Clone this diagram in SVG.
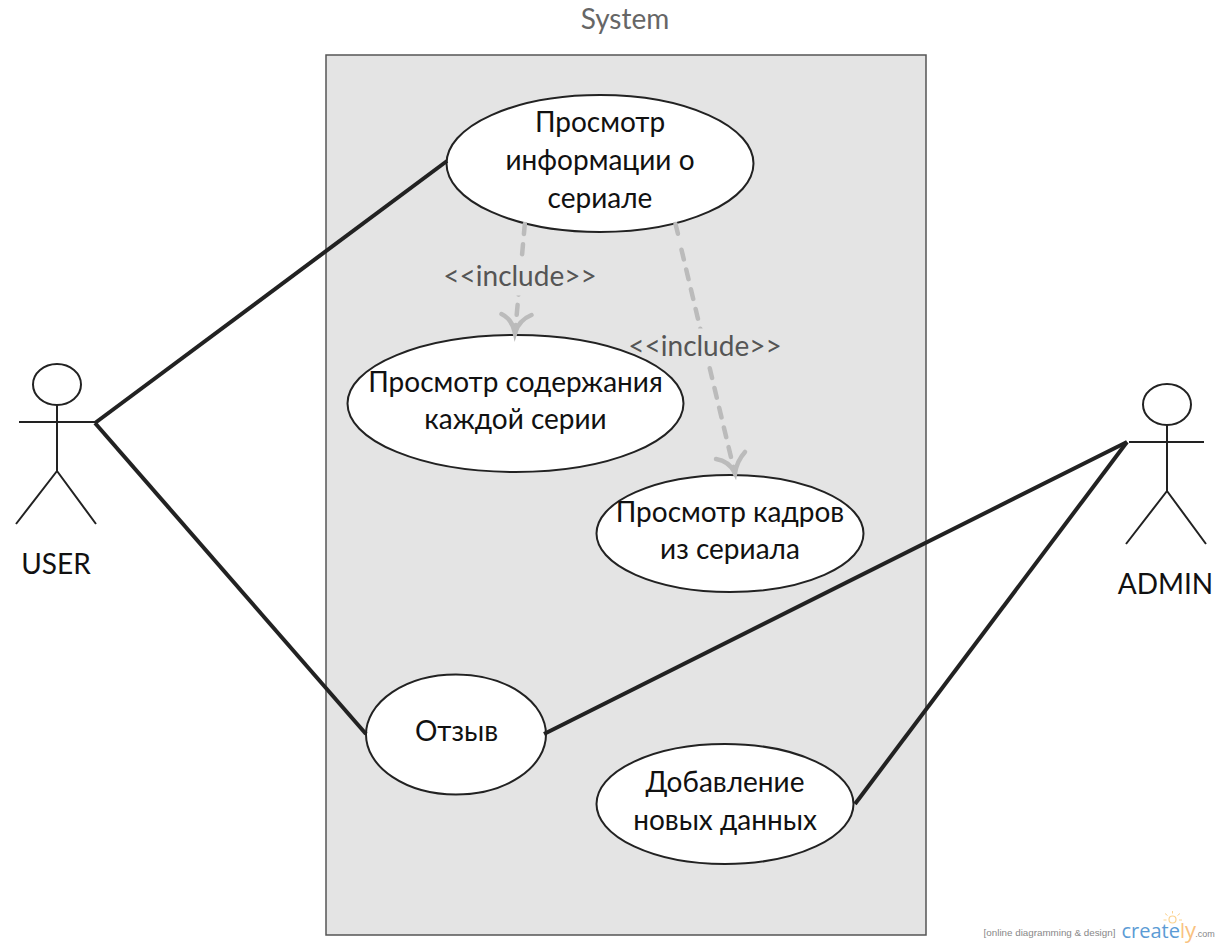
<svg xmlns="http://www.w3.org/2000/svg" width="1220" height="948" viewBox="0 0 1220 948">
<style>
text{font-family:Lato,"Noto Sans",sans-serif;text-anchor:middle}
.t{font-size:28px;fill:#111}
.inc{font-size:28px;fill:#555}
.uc{fill:#fff;stroke:#222;stroke-width:2}
.act{fill:none;stroke:#222;stroke-width:2}
.assoc{fill:none;stroke:#222;stroke-width:4}
.dep{fill:none;stroke:#bbb;stroke-width:4.500;stroke-linecap:round;stroke-dasharray:10 10.3}
.head{fill:none;stroke:#bbb;stroke-width:4.500;stroke-linecap:round}
.bg{fill:#e4e4e4}
.ray{fill:none;stroke:#fbd28f;stroke-width:1}
.wm{font-family:"Liberation Sans",sans-serif;font-size:9.800px;fill:#888}
</style>
<rect width="1220" height="948" fill="#fff"/>
<g id="system">
<rect x="326" y="55" width="600" height="880" fill="#e4e4e4" stroke="#555" stroke-width="1.500"/>
<text x="625" y="28.500" style="font-size:28px;fill:#666">System</text>
</g>
<g id="uc1"><ellipse class="uc" cx="600" cy="163.500" rx="153.500" ry="68.500"/>
<text class="t" x="600" y="132">Просмотр</text><text class="t" x="600" y="170">информации о</text><text class="t" x="600" y="208">сериале</text></g>
<g id="uc2"><ellipse class="uc" cx="515.500" cy="403.500" rx="168" ry="68.500"/>
<text class="t" x="515.500" y="391.500">Просмотр содержания</text><text class="t" x="515.500" y="429">каждой серии</text></g>
<g id="uc3"><ellipse class="uc" cx="730" cy="533.500" rx="133.500" ry="58.500"/>
<text class="t" x="730" y="521.500">Просмотр кадров</text><text class="t" x="730" y="559">из сериала</text></g>
<g id="uc4"><ellipse class="uc" cx="456" cy="734.500" rx="90" ry="60"/>
<text class="t" x="456.500" y="741">Отзыв</text></g>
<g id="uc5"><ellipse class="uc" cx="725" cy="804" rx="128.500" ry="60"/>
<text class="t" x="725" y="792">Добавление</text><text class="t" x="725" y="830">новых данных</text></g>
<g id="user"><ellipse class="act" cx="57" cy="384.500" rx="24" ry="20.500"/>
<path class="act" d="M57 405V471M19 422H95M57 471L16 524M57 471L96 524"/>
<text class="t" x="56" y="573.500">USER</text></g>
<g id="admin"><ellipse class="act" cx="1167" cy="404.500" rx="24" ry="20.500"/>
<path class="act" d="M1167 425V491M1129 442H1204M1167 491L1126 544M1167 491L1206 544"/>
<text class="t" x="1165.500" y="593.500">ADMIN</text></g>
<g id="connectors">
<path class="assoc" d="M95 423L447 161"/>
<path class="assoc" d="M95 423L366 734"/>
<path class="assoc" d="M544 734L1127 442"/>
<path class="assoc" d="M855 804L1127 442"/>
<path class="dep" d="M524.800 224L515 334"/>
<path class="head" d="M501.500 314Q512 319 515 333Q519 320 531.500 315"/>
<path class="dep" d="M675.500 224L679.500 240"/>
<path class="dep" d="M681.500 249.700L735 474"/>
<path class="head" d="M716 459Q729 461 735 473Q737 461 745 452"/>
<rect class="bg" x="505" y="259" width="30" height="36.500"/>
<rect class="bg" x="688" y="328.500" width="34" height="37.500"/>
<text class="inc" x="520" y="286">&lt;&lt;include&gt;&gt;</text>
<text class="inc" x="705" y="356">&lt;&lt;include&gt;&gt;</text>
</g>
<g id="watermark">
<text class="wm" x="1049.500" y="936">[online diagramming &amp; design]</text>
<text x="1121.500" y="938" style="text-anchor:start;font-family:'Open Sans',sans-serif;font-size:20px;fill:#5b9bd5">create<tspan fill="#f9c27f">l<tspan style="font-size:22px">y</tspan></tspan></text>
<text x="1205" y="937" style="font-family:'Liberation Sans',sans-serif;font-size:9px;fill:#888">.com</text>
<circle cx="1172.500" cy="919.500" r="3.500" fill="#fff" stroke="#fbd28f" stroke-width="1.200"/>
<path class="ray" d="M1172.500 911V913.500M1165 913.500L1167.500 915.500M1180 913.500L1177.500 915.500M1163.500 920H1166.500M1179 920H1182"/>
</g>
</svg>
